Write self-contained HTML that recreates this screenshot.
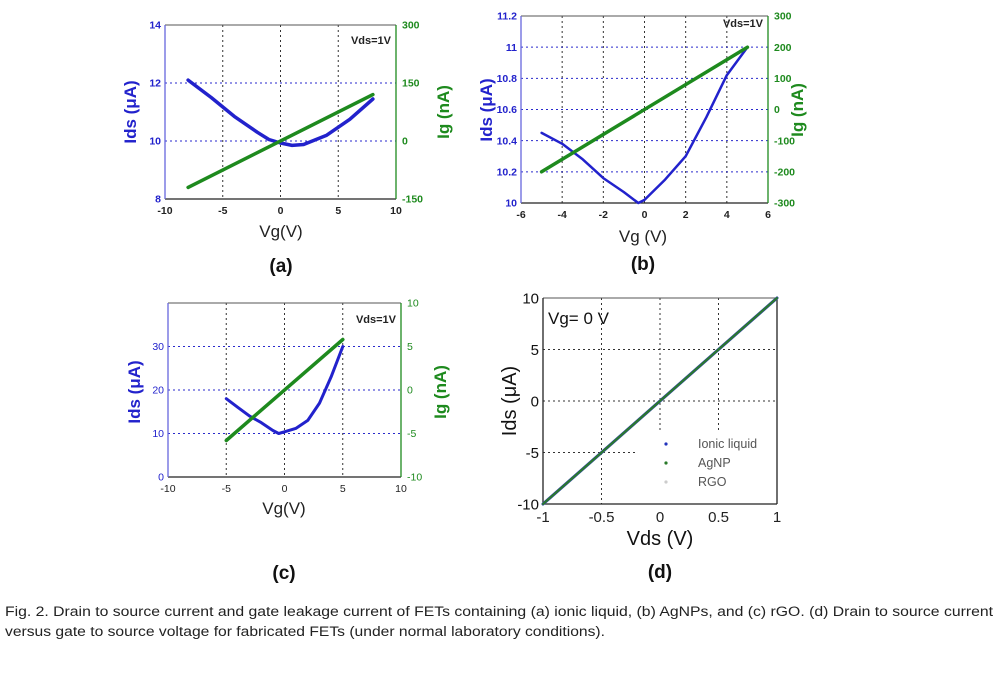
<!DOCTYPE html>
<html><head><meta charset="utf-8">
<style>
html,body{margin:0;padding:0;background:#fff;}
svg{display:block;font-family:"Liberation Sans",Arial,sans-serif;}
</style></head>
<body>
<svg id="fig" width="1000" height="676" viewBox="0 0 1000 676" xmlns="http://www.w3.org/2000/svg">
<rect width="1000" height="676" fill="#fff"/>
<text x="5" y="616" font-size="13.5" fill="#222" textLength="988" lengthAdjust="spacingAndGlyphs">Fig. 2.  Drain to source current and gate leakage current of FETs containing (a) ionic liquid, (b) AgNPs, and (c) rGO. (d) Drain to source current</text>
<text x="5" y="636" font-size="13.5" fill="#222" textLength="600" lengthAdjust="spacingAndGlyphs">versus gate to source voltage for fabricated FETs (under normal laboratory conditions).</text>
</svg>
<script>
// ---- Panel (a) data ----
const aX = [-8,-6,-4,-2,-1,0,1,2,4,6,8];
const aIds = [12.1,11.5,10.85,10.3,10.05,9.93,9.85,9.88,10.2,10.75,11.45];
const aIgX = [-8,8];
const aIg = [-120,120];
// ---- Panel (b) data ----
const bX = [-5,-4,-3,-2,-1,-0.3,0,1,2,3,4,5];
const bIds = [10.45,10.38,10.28,10.16,10.07,10.0,10.02,10.15,10.3,10.55,10.82,11.0];
const bIgX = [-5,5];
const bIg = [-200,200];
// ---- Panel (c) data ----
const cX = [-5,-4,-3,-2,-1,-0.5,0,1,2,3,4,5];
const cIds = [18,16,14,12.5,10.7,10,10.4,11.2,13,17,23,30];
const cIgX = [-5,5];
const cIg = [-5.8,5.8];
// ---- Panel (d) data ----
const dX = [-1,-0.5,0,0.5,1];
const dIonic = [-10,-5,0,5,10];
const dAgNP = [-10,-5,0,5,10];
const dRGO = [-10,-5.02,0,5,10];

const NS="http://www.w3.org/2000/svg";
const svg=document.getElementById('fig');
function el(tag,attrs,parent,text){const e=document.createElementNS(NS,tag);for(const k in attrs)e.setAttribute(k,attrs[k]);if(text!==undefined)e.textContent=text;(parent||svg).appendChild(e);return e;}
const BLUE="#2222cc", GREEN="#1e8a1e";

function panel(p){
  const g=el('g',{});
  
  
  const sx=v=>p.L+(v-p.x0)/(p.x1-p.x0)*(p.R-p.L);
  const sy=v=>p.B-(v-p.y0)/(p.y1-p.y0)*(p.B-p.T);
  const sy2=v=>p.B-(v-p.r0)/(p.r1-p.r0)*(p.B-p.T);
  p.gx.forEach(v=>{const l=el('line',{x1:sx(v),x2:sx(v),y1:p.T,y2:p.gxEnd?p.gxEnd(v,sy):p.B,stroke:'#333','stroke-width':1,'stroke-dasharray':'2,3'},g);
    });
  p.gy.forEach(v=>{const l=el('line',{x1:p.L,x2:p.gyEnd?p.gyEnd(v,sx):p.R,y1:sy(v),y2:sy(v),stroke:p.gridYColor||'#2a2acc','stroke-width':1,'stroke-dasharray':'2,3'},g);
    });
  el('line',{x1:p.L,x2:p.R,y1:p.T,y2:p.T,stroke:'#555','stroke-width':1},g);
  el('line',{x1:p.L,x2:p.R,y1:p.B,y2:p.B,stroke:'#222','stroke-width':1.3},g);
  el('line',{x1:p.L,x2:p.L,y1:p.T,y2:p.B,stroke:p.leftColor,'stroke-width':1.3},g);
  el('line',{x1:p.R,x2:p.R,y1:p.T,y2:p.B,stroke:p.rightColor,'stroke-width':1.3},g);
  p.xt.forEach(v=>{const t=el('text',{x:sx(v),y:p.B+p.xtDy,'font-size':p.tfs,'font-weight':p.tfw,'text-anchor':'middle',fill:'#222'},g,String(v));
    });
  p.yt.forEach(v=>{const t=el('text',{x:p.L-4,y:sy(v)+p.tfs*0.35,'font-size':p.tfs,'font-weight':p.tfw,'text-anchor':'end',fill:p.leftTextColor},g,String(v));
    });
  if(p.rt)p.rt.forEach(v=>{const t=el('text',{x:p.R+6,y:sy2(v)+p.tfs*0.35,'font-size':p.tfs,'font-weight':p.tfw,'text-anchor':'start',fill:GREEN},g,String(v));
    });
  return {g,sx,sy,sy2};
}
function poly(g,xs,ys,fx,fy,color,w,name){
  const pts=xs.map((x,i)=>fx(x).toFixed(1)+','+fy(ys[i]).toFixed(1)).join(' ');
  const l=el('polyline',{points:pts,fill:'none',stroke:color,'stroke-width':w,'stroke-linejoin':'round','stroke-linecap':'round'},g);
  
}
function txt(g,x,y,s,attrs,name){const t=el('text',Object.assign({x,y},attrs),g,s);return t;}

// Panel a
let P=panel({name:'panel-a',L:165,R:396,T:25,B:199,x0:-10,x1:10,y0:8,y1:14,r0:-150,r1:300,
  gx:[-5,0,5],gy:[10,12],xt:[-10,-5,0,5,10],yt:[8,10,12,14],rt:[-150,0,150,300],
  xtDy:15,tfs:10.5,tfw:'bold',leftColor:'#6666dd',rightColor:GREEN,leftTextColor:BLUE});
poly(P.g,aX,aIds,P.sx,P.sy,BLUE,3.5,'ids-curve-a');
poly(P.g,aIgX,aIg,P.sx,P.sy2,GREEN,3.5,'ig-line-a');
txt(P.g,391,44,'Vds=1V',{'font-size':11,'font-weight':'bold','text-anchor':'end',fill:'#222'},'vds-annotation-a');
txt(P.g,0,0,'Ids (μA)',{'font-size':17,'font-weight':'bold',fill:BLUE,'text-anchor':'middle',transform:'translate(136,112) rotate(-90)'},'y-axis-title-a');
txt(P.g,0,0,'Ig (nA)',{'font-size':17,'font-weight':'bold',fill:GREEN,'text-anchor':'middle',transform:'translate(449,112) rotate(-90)'},'y2-axis-title-a');
txt(P.g,281,237,'Vg(V)',{'font-size':17,fill:'#222','text-anchor':'middle'},'x-axis-title-a');
txt(P.g,281,272,'(a)',{'font-size':19,'font-weight':'bold',fill:'#111','text-anchor':'middle'},'panel-label-a');

// Panel b
P=panel({name:'panel-b',L:521,R:768,T:16,B:203,x0:-6,x1:6,y0:10,y1:11.2,r0:-300,r1:300,
  gx:[-4,-2,0,2,4],gy:[10.2,10.4,10.6,10.8,11],xt:[-6,-4,-2,0,2,4,6],yt:[10,10.2,10.4,10.6,10.8,11,11.2],rt:[-300,-200,-100,0,100,200,300],
  xtDy:15,tfs:10.5,tfw:'bold',leftColor:'#6666dd',rightColor:GREEN,leftTextColor:BLUE});
poly(P.g,bX,bIds,P.sx,P.sy,BLUE,2.5,'ids-curve-b');
poly(P.g,bIgX,bIg,P.sx,P.sy2,GREEN,3.5,'ig-line-b');
txt(P.g,763,27,'Vds=1V',{'font-size':11,'font-weight':'bold','text-anchor':'end',fill:'#222'},'vds-annotation-b');
txt(P.g,0,0,'Ids (μA)',{'font-size':17,'font-weight':'bold',fill:BLUE,'text-anchor':'middle',transform:'translate(492,110) rotate(-90)'},'y-axis-title-b');
txt(P.g,0,0,'Ig (nA)',{'font-size':17,'font-weight':'bold',fill:GREEN,'text-anchor':'middle',transform:'translate(803,110) rotate(-90)'},'y2-axis-title-b');
txt(P.g,643,242,'Vg (V)',{'font-size':17,fill:'#222','text-anchor':'middle'},'x-axis-title-b');
txt(P.g,643,270,'(b)',{'font-size':19,'font-weight':'bold',fill:'#111','text-anchor':'middle'},'panel-label-b');

// Panel c
P=panel({name:'panel-c',L:168,R:401,T:303,B:477,x0:-10,x1:10,y0:0,y1:40,r0:-10,r1:10,
  gx:[-5,0,5],gy:[10,20,30],xt:[-10,-5,0,5,10],yt:[0,10,20,30],rt:[-10,-5,0,5,10],
  xtDy:15,tfs:10.5,tfw:'normal',leftColor:'#6666dd',rightColor:GREEN,leftTextColor:BLUE});
poly(P.g,cX,cIds,P.sx,P.sy,BLUE,3,'ids-curve-c');
poly(P.g,cIgX,cIg,P.sx,P.sy2,GREEN,3.5,'ig-line-c');
txt(P.g,396,323,'Vds=1V',{'font-size':11,'font-weight':'bold','text-anchor':'end',fill:'#222'},'vds-annotation-c');
txt(P.g,0,0,'Ids (μA)',{'font-size':17,'font-weight':'bold',fill:BLUE,'text-anchor':'middle',transform:'translate(140,392) rotate(-90)'},'y-axis-title-c');
txt(P.g,0,0,'Ig (nA)',{'font-size':17,'font-weight':'bold',fill:GREEN,'text-anchor':'middle',transform:'translate(446,392) rotate(-90)'},'y2-axis-title-c');
txt(P.g,284,514,'Vg(V)',{'font-size':17,fill:'#222','text-anchor':'middle'},'x-axis-title-c');
txt(P.g,284,579,'(c)',{'font-size':19,'font-weight':'bold',fill:'#111','text-anchor':'middle'},'panel-label-c');

// Panel d
P=panel({name:'panel-d',L:543,R:777,T:298,B:504,x0:-1,x1:1,y0:-10,y1:10,
  gx:[-0.5,0,0.5],gy:[-5,0,5],xt:[-1,-0.5,0,0.5,1],yt:[-10,-5,0,5,10],
  gxEnd:(v,sy)=>v>=0?432:504, gyEnd:(v,sx)=>v===-5?sx(-0.2):777, gridYColor:'#333',
  xtDy:18,tfs:15,tfw:'normal',leftColor:'#222',rightColor:'#222',leftTextColor:'#111'});
poly(P.g,dX,dRGO,P.sx,P.sy,'#99cc99',3,'rgo-line');
poly(P.g,dX,dIonic,P.sx,P.sy,'#3344aa',3,'ionic-liquid-line');
poly(P.g,dX,dAgNP,P.sx,P.sy,'#2a7a2a',2,'agnp-line');
txt(P.g,548,324,'Vg= 0 V',{'font-size':17,fill:'#111'},'vg-annotation-d');
txt(P.g,0,0,'Ids (μA)',{'font-size':20,fill:'#111','text-anchor':'middle',transform:'translate(516,401) rotate(-90)'},'y-axis-title-d');
txt(P.g,660,545,'Vds (V)',{'font-size':20,fill:'#111','text-anchor':'middle'},'x-axis-title-d');
txt(P.g,660,578,'(d)',{'font-size':19,'font-weight':'bold',fill:'#111','text-anchor':'middle'},'panel-label-d');
const lg=el('g',{},P.g);


[['Ionic liquid','#2233bb',448],['AgNP','#2a7a2a',467],['RGO','#cccccc',486]].forEach(([n,c,y])=>{
  const m=el('circle',{cx:666,cy:y-4,r:1.6,fill:c},lg);
  
  
  const t=el('text',{x:698,y:y,'font-size':12.5,fill:'#555'},lg,n);
  
  
});
</script>
</body></html>
